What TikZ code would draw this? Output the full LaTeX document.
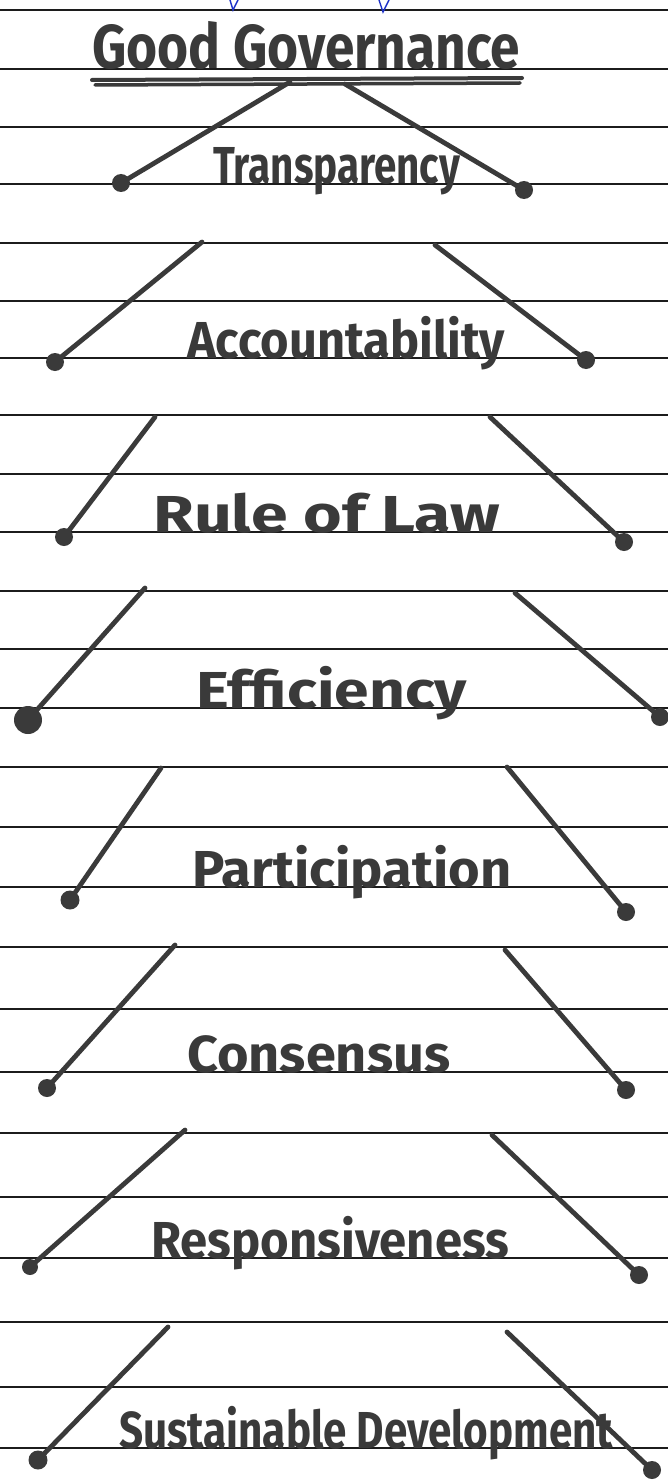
\documentclass[tikz,border=0pt]{standalone}
\usepackage{fontspec}
\setmainfont{Fira Sans}
\usepackage{graphicx}
\usetikzlibrary{calc}
\definecolor{pencil}{HTML}{3A3A3A}
\definecolor{ruling}{HTML}{1C1C1C}
\definecolor{inkblue}{HTML}{1E32C8}
\newcommand{\fitw}[2]{\resizebox{#1pt}{\height}{#2}}

\begin{document}
\begin{tikzpicture}[x=1pt,y=-1pt,
  rule/.style={ruling,line width=1.6pt},
  hw/.style={text=pencil,inner sep=0pt,anchor=base west,font=\fontsize{52}{56}\selectfont\bfseries},
  stroke/.style={pencil,line width=4.8pt,line cap=round},
  blob/.style={circle,fill=pencil,inner sep=0pt,minimum size=#1},
  blob/.default=18pt,
]
\useasboundingbox[fill=white] (0,0) rectangle (668,1482);

\foreach \yy in {10,69,127,184,243,301,358,415,474,532,591,649,708,767,827,887,947,1009,1072,1133,1197,1258,1322,1387,1448}
  \draw[rule] (0,\yy) -- (668,\yy);

% ink showing through from the page above
\draw[inkblue,line width=1.4pt] (230,0) -- (233,10) -- (238,0);
\draw[inkblue,line width=1.4pt] (379,0) -- (383,12) -- (389,0);

\node[hw,font=\fontsize{62}{66}\selectfont\bfseries] (title) at (92,69) {\fitw{428}{Good Governance}};
\draw[stroke,line width=4pt] (92,80) -- (522,78);
\draw[stroke,line width=3.5pt] (95,85) -- (520,83);

\foreach \nm/\txt/\tx/\ty/\tw/\ax/\ay/\bx/\by/\ls/\cx/\cy/\dx/\dy in {
  trans/Transparency/213/184/247/290/82/121/183/18/345/84/524/190,
  acc/Accountability/187/358/318/202/242/55/362/18/435/245/586/360,
  law/Rule of Law/153/532/347/155/417/64/537/18/490/417/624/542,
  eff/Efficiency/196/708/271/145/588/28/720/28/515/593/660/717,
  part/Participation/192/887/319/161/768/70/900/19/507/767/626/912,
  cons/Consensus/187/1072/263/175/945/47/1088/18/505/950/626/1090,
  resp/Responsiveness/151/1258/358/185/1130/30/1267/16/492/1135/639/1275,
  sust/Sustainable Development/119/1448/494/168/1327/38/1460/19/507/1332/652/1470}
{
  \node[hw] (\nm) at (\tx,\ty) {\fitw{\tw}{\txt}};
  \coordinate (\nm-tl) at (\ax,\ay);
  \coordinate (\nm-tr) at (\cx,\cy);
  \node[blob=\ls pt] (\nm-dl) at (\bx,\by) {};
  \node[blob] (\nm-dr) at (\dx,\dy) {};
  \draw[stroke] (\nm-tl) -- (\nm-dl.center);
  \draw[stroke] (\nm-tr) -- (\nm-dr.center);
}

\end{tikzpicture}
\end{document}
